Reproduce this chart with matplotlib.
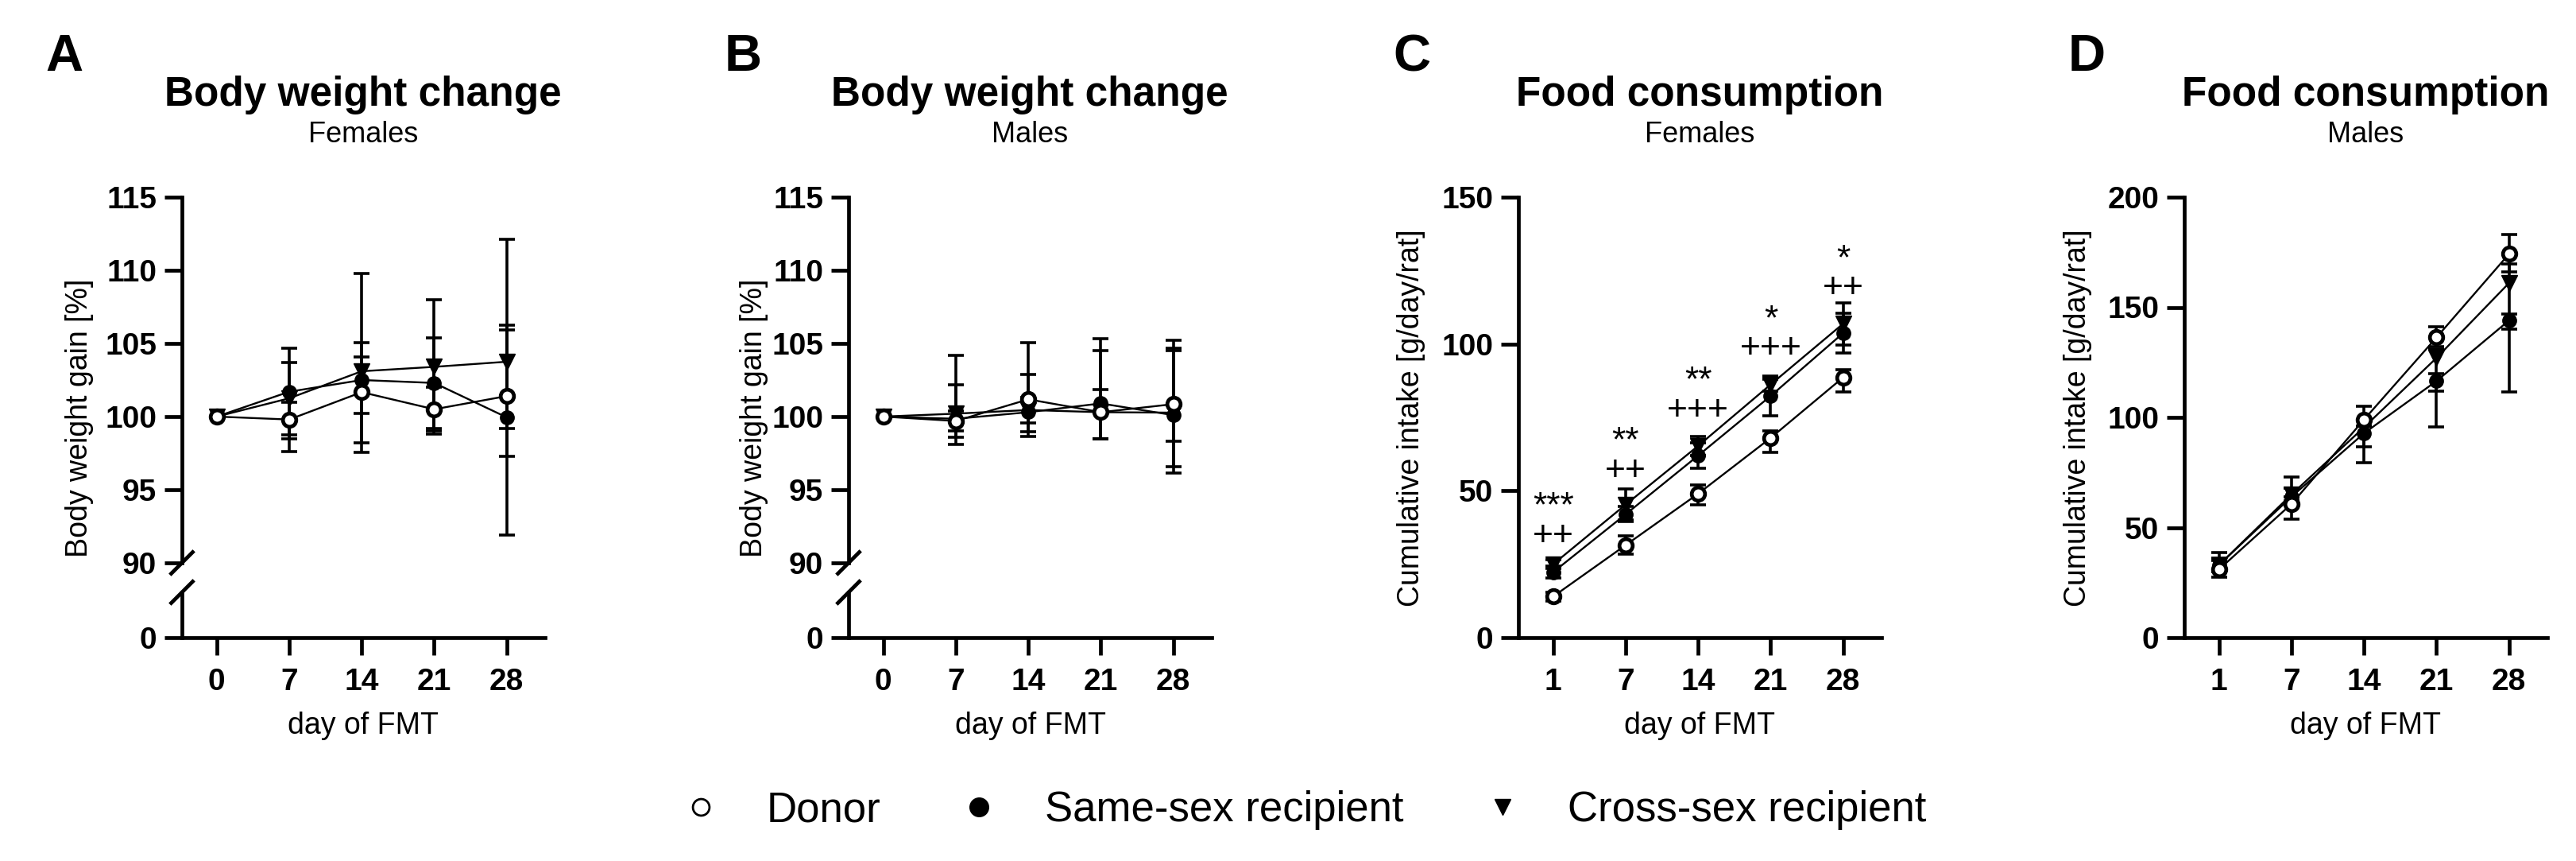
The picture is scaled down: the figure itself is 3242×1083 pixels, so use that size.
import numpy as np
import matplotlib
matplotlib.use('Agg')
import matplotlib.pyplot as plt
from matplotlib.lines import Line2D

plt.rcParams['font.family'] = ['Liberation Sans', 'DejaVu Sans']

# ---- data (mean, lower cap, upper cap) ----
days_bw = ['0', '7', '14', '21', '28']
days_food = ['1', '7', '14', '21', '28']

# A: body weight, females
a_donor = [100, 99.8, 101.67, 100.5, 101.4]
a_donor_lo = [100, 98.5, 98.2, 99.0, 97.3]
a_donor_hi = [100, 101.0, 104.1, 102.0, 105.94]
a_same = [100, 101.7, 102.5, 102.3, 99.95]
a_same_lo = [100, 98.75, 100.2, 99.2, 91.9]
a_same_hi = [100, 103.7, 105.06, 105.4, 106.25]
a_cross = [100, 101.25, 103.1, 103.4, 103.75]
a_cross_lo = [100, 97.6, 97.55, 98.8, 99.2]
a_cross_hi = [100, 104.65, 109.8, 108.0, 112.1]

# B: body weight, males
b_donor = [100, 99.7, 101.18, 100.3, 100.85]
b_donor_lo = [100, 99.0, 98.64, 98.5, 96.6]
b_donor_hi = [100, 100.4, 105.04, 101.85, 104.7]
b_same = [100, 99.85, 100.3, 100.9, 100.1]
b_same_lo = [100, 98.6, 98.97, 98.46, 96.15]
b_same_hi = [100, 102.2, 102.9, 105.34, 104.5]
b_cross = [100, 100.2, 100.45, 100.3, 100.27]
b_cross_lo = [100, 98.1, 99.55, 98.5, 98.3]
b_cross_hi = [100, 104.2, 101.3, 104.5, 105.2]

# C: food consumption, females
c_donor = [14, 31.5, 49, 68, 88.6]
c_donor_lo = [12.5, 28.3, 45.2, 63.2, 83.6]
c_donor_hi = [15.5, 34.6, 52.1, 70.5, 91.2]
c_same = [22.3, 42, 62, 82.3, 103.7]
c_same_lo = [20.3, 39.4, 57.6, 75.6, 96.8]
c_same_hi = [24.3, 44.6, 66.4, 89, 110.6]
c_cross = [25, 45.3, 65.3, 86.2, 106.9]
c_cross_lo = [23.5, 40, 62, 84, 99.6]
c_cross_hi = [26.5, 50.5, 68.4, 88.1, 114.1]
# significance marks: first line (*), second line (+)
c_sig = ['***\n++', '**\n++', '**\n+++', '*\n+++', '*\n++']
c_sig_y = [31.5, 53.7, 74.3, 95.2, 115.8]

# D: food consumption, males
d_donor = [31, 60.7, 99, 136.3, 174.2]
d_donor_lo = [27.3, 53.8, 96, 132.2, 166]
d_donor_hi = [35, 64, 105, 141, 183]
d_same = [33, 64, 92.8, 116.5, 144]
d_same_lo = [30, 61, 79.5, 95.5, 111.5]
d_same_hi = [36, 68, 96, 120, 147]
d_cross = [33, 65, 95.5, 127, 161]
d_cross_lo = [30, 62, 86.5, 112, 140]
d_cross_hi = [38.5, 73, 99, 131, 169.8]

W, H = 3242, 1083
fig = plt.figure(figsize=(W / 100, H / 100), dpi=100)

LW = 3.4
TICKFS = 28
LABFS = 27

styles = {
    'cross': dict(marker='v', ms=14, mfc='black', mec='black', mew=1),
    'same': dict(marker='o', ms=12.5, mfc='black', mec='black', mew=1),
    'donor': dict(marker='o', ms=12, mfc='white', mec='black', mew=3.4),
}


def draw_series(ax, y, lo, hi, kind):
    x = np.arange(len(y))
    y = np.array(y)
    yerr = [y - np.array(lo), np.array(hi) - y]
    ax.errorbar(x, y, yerr=yerr, fmt='none', ecolor='black', elinewidth=2.6,
                capsize=7, capthick=2.6, zorder=2, clip_on=False)
    ax.plot(x, y, color='black', lw=1.7, zorder=3, clip_on=False, **styles[kind])


def style_axis(ax):
    for s in ['top', 'right']:
        ax.spines[s].set_visible(False)
    for s in ['left', 'bottom']:
        ax.spines[s].set_linewidth(LW)
    ax.tick_params(axis='both', direction='out', length=16, width=LW,
                   labelsize=TICKFS)
    ax.tick_params(axis='y', pad=7)
    ax.tick_params(axis='x', pad=11)
    ax.set_xlim(-0.48, 4.53)


def bold_ticks(ax):
    for lab in ax.get_xticklabels() + ax.get_yticklabels():
        lab.set_fontweight('bold')


def panel_text(left, letter, title, sub):
    cx = (left + 228) / W
    fig.text(cx, 1 - 133 / H, title, fontsize=37, fontweight='bold',
             ha='center', va='baseline')
    fig.text(cx, 1 - 179 / H, sub, fontsize=26, ha='center', va='baseline')


def broken_panel(left, series, ylabel_x):
    ax = fig.add_axes([left / W, 1 - 708 / H, 457 / W, (708 - 248) / H])
    axb = fig.add_axes([left / W, 1 - 802 / H, 457 / W, (802 - 745) / H])
    style_axis(ax)
    style_axis(axb)
    ax.spines['bottom'].set_visible(False)
    ax.tick_params(axis='x', bottom=False, labelbottom=False)
    ax.set_ylim(90, 115)
    ax.set_yticks([90, 95, 100, 105, 110, 115])
    axb.set_ylim(0, 1)
    axb.set_yticks([0])
    axb.set_xticks(range(5))
    axb.set_xticklabels(days_bw)
    axb.set_xlabel('day of FMT', fontsize=LABFS, labelpad=14)
    for y, lo, hi, kind in series:
        draw_series(ax, y, lo, hi, kind)
    # break marks
    dx, dy = 13.5 / 457, 13.5 / 460
    ax.plot([-dx, dx], [-dy, dy], transform=ax.transAxes, color='black',
            lw=LW, clip_on=False)
    dyb = 13.5 / 57
    axb.plot([-dx, dx], [1 - dyb, 1 + dyb], transform=axb.transAxes,
             color='black', lw=LW, clip_on=False)
    ax.set_ylabel('Body weight gain [%]', fontsize=LABFS)
    ax.yaxis.set_label_coords(ylabel_x, (708 - 526) / 460)
    bold_ticks(ax)
    bold_ticks(axb)
    return ax, axb


def food_panel(left, series, ymax, ystep, ylabel_x):
    ax = fig.add_axes([left / W, 1 - 802 / H, 457 / W, (802 - 248) / H])
    style_axis(ax)
    ax.set_ylim(0, ymax)
    ax.set_yticks(np.arange(0, ymax + 1, ystep))
    ax.set_xticks(range(5))
    ax.set_xticklabels(days_food)
    ax.set_xlabel('day of FMT', fontsize=LABFS, labelpad=14)
    for y, lo, hi, kind in series:
        draw_series(ax, y, lo, hi, kind)
    ax.set_ylabel('Cumulative intake [g/day/rat]', fontsize=LABFS)
    ax.yaxis.set_label_coords(ylabel_x, (802 - 526) / 554)
    bold_ticks(ax)
    return ax


# A
broken_panel(229, [(a_cross, a_cross_lo, a_cross_hi, 'cross'),
                   (a_same, a_same_lo, a_same_hi, 'same'),
                   (a_donor, a_donor_lo, a_donor_hi, 'donor')], -0.243)
panel_text(229, 'A', 'Body weight change', 'Females')

# B
broken_panel(1068, [(b_cross, b_cross_lo, b_cross_hi, 'cross'),
                    (b_same, b_same_lo, b_same_hi, 'same'),
                    (b_donor, b_donor_lo, b_donor_hi, 'donor')], -0.222)
panel_text(1068, 'B', 'Body weight change', 'Males')

# C
axc = food_panel(1911, [(c_cross, c_cross_lo, c_cross_hi, 'cross'),
                        (c_same, c_same_lo, c_same_hi, 'same'),
                        (c_donor, c_donor_lo, c_donor_hi, 'donor')],
                 150, 50, -0.255)
for i in range(5):
    axc.text(i, c_sig_y[i], c_sig[i], fontsize=32, ha='center',
             va='baseline', linespacing=0.85, multialignment='center')
panel_text(1911, 'C', 'Food consumption', 'Females')

# D
food_panel(2749, [(d_cross, d_cross_lo, d_cross_hi, 'cross'),
                  (d_same, d_same_lo, d_same_hi, 'same'),
                  (d_donor, d_donor_lo, d_donor_hi, 'donor')],
           200, 50, -0.253)
panel_text(2749, 'D', 'Food consumption', 'Males')

# panel letters
for x, letter in [(57, 'A'), (912, 'B'), (1753, 'C'), (2603, 'D')]:
    fig.text(x / W, 1 - 89 / H, letter, fontsize=47, fontweight='bold',
             ha='left', va='baseline')

# legend
handles = [
    Line2D([], [], linestyle='none', marker='o', ms=15, mfc='white', mec='black', mew=2),
    Line2D([], [], linestyle='none', marker='o', ms=17, mfc='black', mec='black'),
    Line2D([], [], linestyle='none', marker='v', ms=15, mfc='black', mec='black'),
]
labels = ['Donor', 'Same-sex recipient', 'Cross-sex recipient']
fig.legend(handles, labels, loc='center', bbox_to_anchor=(1640 / W, 1 - 1019 / H),
           ncol=3, frameon=False, fontsize=38, handlelength=1,
           handletextpad=1.06, columnspacing=1.86)

fig.savefig('out.png', dpi=100, facecolor='white')
